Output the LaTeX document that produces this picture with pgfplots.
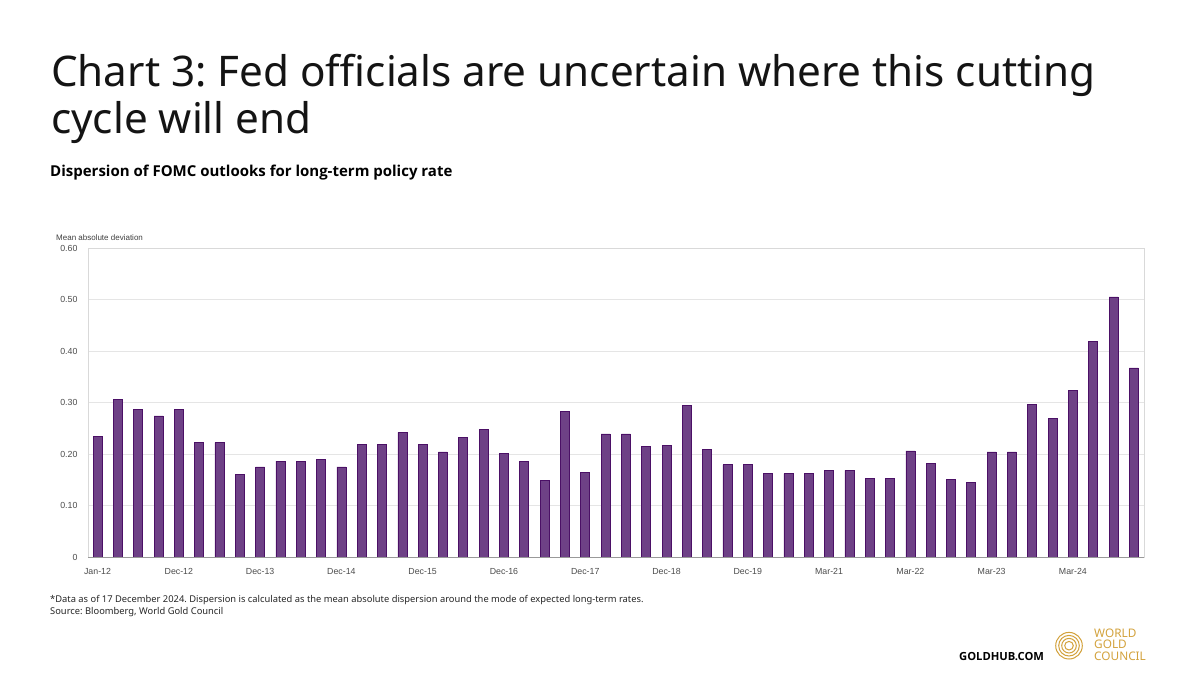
\documentclass[border=0pt]{standalone}
\usepackage{fontspec}
\setmainfont{Noto Sans}
\newfontfamily\boldf{Open Sans}
\newfontfamily\arialf{Liberation Sans}
\usepackage{pgfplots}
\pgfplotsset{compat=1.18}
\definecolor{barfill}{HTML}{6E4186}
\definecolor{baredge}{HTML}{4B1066}
\definecolor{gold}{HTML}{D3A23C}
\pgfplotstableread{
x y
0 0.234
1 0.306
2 0.287
3 0.274
4 0.287
5 0.222
6 0.222
7 0.160
8 0.175
9 0.186
10 0.186
11 0.189
12 0.175
13 0.218
14 0.218
15 0.242
16 0.218
17 0.204
18 0.233
19 0.248
20 0.201
21 0.186
22 0.148
23 0.282
24 0.165
25 0.239
26 0.239
27 0.215
28 0.217
29 0.295
30 0.209
31 0.179
32 0.179
33 0.162
34 0.162
35 0.162
36 0.168
37 0.168
38 0.153
39 0.153
40 0.206
41 0.182
42 0.151
43 0.144
44 0.204
45 0.204
46 0.297
47 0.269
48 0.324
49 0.419
50 0.505
51 0.367
}\datatable
\begin{document}
\frenchspacing
\begin{tikzpicture}[x=1pt,y=1pt]
\fill[white] (0,0) rectangle (1200,675);
\node[anchor=base west, inner sep=0, font=\fontsize{42.2}{48}\selectfont, text=black!92] at (51,588) {Chart 3: Fed officials are uncertain where this cutting};
\node[anchor=base west, inner sep=0, font=\fontsize{42.2}{48}\selectfont, text=black!92] at (51,541) {cycle will end};
\node[anchor=base west, inner sep=0, font=\boldf\bfseries\fontsize{15}{17}\selectfont] at (50,498) {Dispersion of FOMC outlooks for long-term policy rate};
\node[anchor=base west, inner sep=0, font=\arialf\fontsize{8}{9}\selectfont, text=black!75] at (56,434) {Mean absolute deviation};
\begin{axis}[
  at={(88pt,118pt)}, anchor=south west,
  scale only axis, width=1056pt, height=309pt,
  xmin=-0.47, xmax=51.5, ymin=0, ymax=0.6,
  ytick={0,0.1,0.2,0.3,0.4,0.5,0.6},
  yticklabels={0,0.10,0.20,0.30,0.40,0.50,0.60},
  xtick={0,4,8,12,16,20,24,28,32,36,40,44,48},
  xticklabels={Jan-12,Dec-12,Dec-13,Dec-14,Dec-15,Dec-16,Dec-17,Dec-18,Dec-19,Mar-21,Mar-22,Mar-23,Mar-24},
  major tick length=0pt,
  ymajorgrids, grid style={draw=black!10, line width=0.8pt},
  axis line style={draw=black!15, line width=0.8pt},
  extra y ticks={0}, extra y tick labels={},
  extra y tick style={grid style={draw=black!40, line width=0.8pt}},
  ticklabel style={font=\arialf\fontsize{8.8}{10}\selectfont, text=black!70},
  xticklabel style={yshift=-8pt},
  yticklabel style={xshift=-7pt},
]
\addplot[ybar, bar width=9pt, fill=barfill, draw=baredge, line width=0.7pt] table[x=x,y=y] {\datatable};
\end{axis}
\node[anchor=base west, inner sep=0, font=\fontsize{9.35}{11}\selectfont, text=black!85] at (50,72) {*Data as of 17 December 2024. Dispersion is calculated as the mean absolute dispersion around the mode of expected long-term rates.};
\node[anchor=base west, inner sep=0, font=\fontsize{9.35}{11}\selectfont, text=black!85] at (50,60) {Source: Bloomberg, World Gold Council};
\node[anchor=base west, inner sep=0, font=\boldf\bfseries\fontsize{11.2}{13}\selectfont] at (959,15) {GOLDHUB.COM};
\foreach \r in {13.3,10.3,7.3,4.3} \draw[gold, line width=1pt] (1069,29.3) circle (\r);
\node[anchor=base west, inner sep=0, font=\fontsize{11.8}{13}\selectfont, text=gold] at (1094,37.5) {WORLD};
\node[anchor=base west, inner sep=0, font=\fontsize{11.8}{13}\selectfont, text=gold] at (1094,26) {GOLD};
\node[anchor=base west, inner sep=0, font=\fontsize{11.8}{13}\selectfont, text=gold] at (1094,14.5) {COUNCIL};
\end{tikzpicture}
\end{document}
